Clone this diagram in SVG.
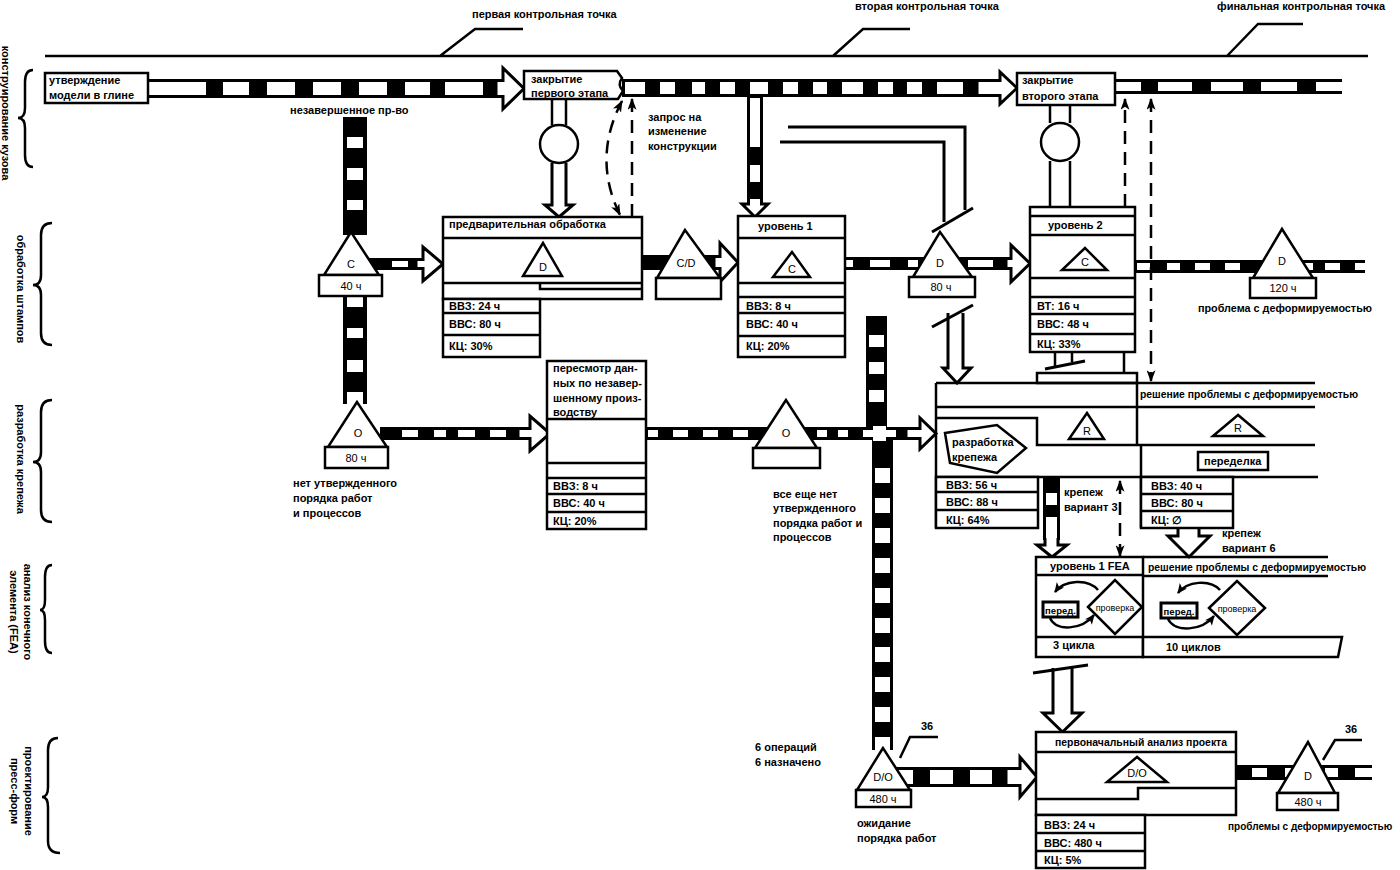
<svg xmlns="http://www.w3.org/2000/svg" width="1400" height="870" viewBox="0 0 1400 870">
<style>
.ln{fill:none;stroke:#000;stroke-width:2.5}
.th{fill:none;stroke:#000;stroke-width:3}
.bx{fill:#fff;stroke:#000;stroke-width:2.5}
.ar{fill:#fff;stroke:#000;stroke-width:3;stroke-linejoin:miter}
.tk{fill:#000}
.gp{fill:none;stroke:#fff;stroke-linecap:butt}
.ds{fill:none;stroke:#000;stroke-width:2.5;stroke-dasharray:13 8}
text{font-family:"Liberation Sans",Arial,sans-serif;fill:#000}
.b{font-size:11px;font-weight:bold}
.r{font-size:11px;text-anchor:middle}
.s{font-size:9px;text-anchor:middle}
.pb{font-size:9.5px;font-weight:bold;text-anchor:middle}
</style>
<defs>
<marker id="ah" viewBox="0 0 10 10" refX="9" refY="5" markerWidth="12" markerHeight="9" markerUnits="userSpaceOnUse" orient="auto-start-reverse" preserveAspectRatio="none"><path d="M0,0 L10,5 L0,10 L2.5,5 Z" fill="#000"/></marker>
<marker id="as" viewBox="0 0 10 10" refX="9" refY="5" markerWidth="10" markerHeight="9" markerUnits="userSpaceOnUse" orient="auto" preserveAspectRatio="none"><path d="M0,0 L10,5 L0,10 L2.5,5 Z" fill="#000"/></marker>
</defs>
<rect width="1400" height="870" fill="#fff"/>

<g id="lanes">
<path class="ln" d="M33,70Q25,70 25,82L25,108Q25,118 18,118Q25,118 25,128L25,155Q25,167 33,167"/>
<path class="ln" d="M52,223Q41,223 41,235L41,275Q41,285 33,285Q41,285 41,295L41,333Q41,345 52,345"/>
<path class="ln" d="M52,400Q41,400 41,412L41,452Q41,462 33,462Q41,462 41,472L41,510Q41,522 52,522"/>
<path class="ln" d="M52,565Q45,565 45,577L45,600Q45,610 40,610Q45,610 45,620L45,641Q45,653 52,653"/>
<path class="ln" d="M58,738Q48,738 48,750L48,787Q48,797 42,797Q48,797 48,807L48,841Q48,853 60,853"/>
<text class="b" text-anchor="middle" transform="translate(2,113) rotate(90)">конструирование кузова</text>
<text class="b" text-anchor="middle" transform="translate(17,289) rotate(90)">обработка штампов</text>
<text class="b" text-anchor="middle" transform="translate(17,459) rotate(90)">разработка крепежа</text>
<text class="b" text-anchor="middle" transform="translate(24,612) rotate(90)"><tspan x="0">анализ конечного</tspan><tspan x="0" dy="14">элемента (FEA)</tspan></text>
<text class="b" text-anchor="middle" transform="translate(25,791) rotate(90)"><tspan x="0">проектирование</tspan><tspan x="0" dy="14">пресс-форм</tspan></text>
</g>

<g id="checkpoints">
<path class="ln" d="M45,56H1368M440,56L475,29H523M833,56L863,29H910M1227,56L1258,24H1303"/>
<text class="b" x="472" y="18">первая контрольная точка</text>
<text class="b" x="855" y="10">вторая контрольная точка</text>
<text class="b" x="1217" y="10">финальная контрольная точка</text>
</g>

<g id="connectors">
<rect class="tk" x="148" y="79" width="349" height="19"/>
<path class="gp" stroke-width="13" d="M149,88.5H206M223,88.5H249M267,88.5H295M313,88.5H341M359,88.5H387M405,88.5H430M445,88.5H483"/>
<polygon class="ar" points="496,80.5 503,80.5 503,68 524,88.5 503,109 503,96.5 496,96.5"/>
<rect class="tk" x="622" y="79" width="357" height="18"/>
<path class="gp" stroke-width="12" d="M625,88H645M660,88H675M692,88H705M720,88H735M750,88H768M783,88H798M813,88H827M842,88H863M878,88H893M907,88H922M937,88H963"/>
<polygon class="ar" points="977,80.5 1000,80.5 1000,72 1017,88 1000,104 1000,95.5 977,95.5"/>
<rect class="tk" x="1115" y="79" width="227" height="15"/>
<path class="gp" stroke-width="9" d="M1115,86.5H1141M1158,86.5H1192M1211,86.5H1243M1261,86.5H1297M1316,86.5H1342"/>
<rect class="tk" x="747" y="96" width="16" height="105"/>
<path class="gp" stroke-width="10" d="M755,98V147M755,165V182"/>
<path class="ar" d="M748.5,199V204H742L755,217L768,204H761.5V199"/>
<rect class="tk" x="343" y="117" width="24" height="118"/>
<path class="gp" stroke-width="16" d="M355,137V148M355,168V180M355,200V210"/>
<rect class="tk" x="343" y="296" width="24" height="108"/>
<path class="gp" stroke-width="16" d="M355,297V307M355,328V338M355,360V372M355,392V404"/>
<rect class="tk" x="365" y="258" width="55" height="12"/>
<path class="gp" stroke-width="6" d="M392,264H408"/>
<polygon class="ar" points="416,259.5 423,259.5 423,247 443,264 423,281 423,268.5 416,268.5"/>
<rect class="tk" x="642" y="255" width="76" height="15"/>
<polygon class="ar" points="714,256.5 720,256.5 720,243 738,262.5 720,282 720,268.5 714,268.5"/>
<rect class="tk" x="845" y="257" width="164" height="13"/>
<path class="gp" stroke-width="7" d="M846,263.5H853M870,263.5H890M908,263.5H918M968,263.5H993"/>
<polygon class="ar" points="1006,258.5 1011,258.5 1011,245 1030,263.5 1011,282 1011,268.5 1006,268.5"/>
<rect class="tk" x="1135" y="260" width="230" height="13"/>
<path class="gp" stroke-width="7" d="M1137,266.5H1150M1167,266.5H1180M1195,266.5H1210M1225,266.5H1240M1300,266.5H1313M1325,266.5H1340M1355,266.5H1365"/>
<rect class="tk" x="380" y="427" width="142" height="13"/>
<path class="gp" stroke-width="7" d="M402,433.5H418M434,433.5H446M458,433.5H475M490,433.5H506"/>
<polygon class="ar" points="518,428.5 530,428.5 530,416 550,433.5 530,451 530,438.5 518,438.5"/>
<rect class="tk" x="866" y="316" width="21" height="112"/>
<path class="gp" stroke-width="15" d="M876.5,335V347M876.5,362V374M876.5,390V402"/>
<rect class="tk" x="872" y="427" width="21" height="323"/>
<path class="gp" stroke-width="15" d="M882.5,468V483M882.5,498V513M882.5,528V543M882.5,558V573M882.5,588V603M882.5,618V633M882.5,647V662M882.5,677V692M882.5,707V722M882.5,737V752"/>
<rect class="tk" x="646" y="427" width="262" height="13"/>
<path class="gp" stroke-width="7" d="M648,433.5H658M673,433.5H688M703,433.5H718M733,433.5H748M817,433.5H827M838,433.5H848M863,433.5H896"/>
<path class="gp" stroke-width="13" d="M879.5,426V441"/>
<polygon class="ar" points="906,428.5 920,428.5 920,418 936,433.5 920,449 920,438.5 906,438.5"/>
<rect class="tk" x="890" y="767" width="124" height="20"/>
<path class="gp" stroke-width="14" d="M890,777H913M930,777H953M970,777H992M1008,777H1014"/>
<polygon class="ar" points="1006,768.5 1020,768.5 1020,757 1037,777 1020,797 1020,785.5 1006,785.5"/>
<rect class="tk" x="1236" y="765" width="136" height="15"/>
<path class="gp" stroke-width="9" d="M1252,772.5H1267M1285,772.5H1300M1325,772.5H1338M1355,772.5H1372"/>
<rect class="tk" x="1043" y="477" width="17" height="63"/>
<path class="gp" stroke-width="11" d="M1051.5,493V505M1051.5,517V541"/>
<path class="ar" d="M1045,538V545H1037L1052,557L1067,545H1058V538"/>
<path class="ln" d="M552,100V125M566,100V125"/>
<path class="ar" stroke-width="2.5" d="M552,163V205H545L559,217L573,205H566V163"/>
<path class="ln" d="M1050,105V123M1070,105V123M1050,161V207M1070,161V207"/>
<path class="ds" d="M632,217V99" marker-end="url(#ah)"/>
<path class="ds" d="M622,101Q592,158 620,215" marker-start="url(#ah)" marker-end="url(#ah)"/>
<path class="ds" d="M1125,207V99" marker-end="url(#ah)"/>
<path class="ds" d="M1151,99V381" marker-start="url(#ah)" marker-end="url(#ah)"/>
<path class="ds" d="M1120,481V556" marker-start="url(#ah)" marker-end="url(#ah)"/>
<path class="th" d="M788,127H965V210M780,142H944V222"/>
<path class="th" d="M932,232L973,208"/>
<path class="ar" stroke-width="2.5" d="M948,313V368H943L957,383L971,368H963V313"/>
<path class="th" d="M932,327L973,305"/>
<path class="ln" d="M1055,352V367M1072,352V362M1124,352V373"/>
<path class="th" d="M1045,369L1085,361"/>
<path class="ar" stroke-width="2.5" d="M1053,668V713H1043L1062.5,732L1082,713H1072V668"/>
<path class="th" d="M1033,673L1088,665"/>
<path class="ar" stroke-width="2.5" d="M1178,528V536H1168L1189,557L1210,536H1199V528"/>
<path class="ln" d="M900,758L910,737H938M1323,760L1335,740H1362"/>
</g>

<g id="n-utv">
<rect class="bx" x="45" y="73" width="103" height="30"/>
<text class="b" x="49" y="84">утверждение</text>
<text class="b" x="49" y="99">модели в глине</text>
</g>
<g id="n-close1">
<path class="bx" d="M524,71H617L622,78Q617,85 623,91L618,99H524Z"/>
<text class="b" x="531" y="83">закрытие</text>
<text class="b" x="531" y="97">первого этапа</text>
</g>
<g id="n-close2">
<rect class="bx" x="1017" y="73" width="98" height="32"/>
<text class="b" x="1022" y="84">закрытие</text>
<text class="b" x="1022" y="100">второго этапа</text>
</g>
<g id="n-circle1"><circle class="bx" cx="559" cy="144" r="19"/></g>
<g id="n-circle2"><circle class="bx" cx="1060" cy="142" r="19"/></g>

<g id="n-tri-c40">
<polygon class="bx" points="351,232 324,275 379,275"/>
<rect class="bx" x="319" y="275" width="63" height="21"/>
<text class="r" x="351" y="268">C</text>
<text class="r" x="351" y="290">40 ч</text>
</g>
<g id="n-tri-o80">
<polygon class="bx" points="357,402 328,447 387,447"/>
<rect class="bx" x="325" y="447" width="63" height="21"/>
<text class="r" x="358" y="437">O</text>
<text class="r" x="356" y="462">80 ч</text>
</g>

<g id="n-pre">
<rect class="bx" x="443" y="217" width="199" height="82"/>
<path class="ln" d="M443,238H642M443,283H642M540,283V289H642"/>
<polygon class="bx" points="543,243 523,276 562,276"/>
<text class="r" x="543" y="271">D</text>
<text class="b" x="449" y="228">предварительная обработка</text>
<rect class="bx" x="443" y="299" width="97" height="58"/>
<path class="ln" d="M443,313H540M443,335H540"/>
<text class="b" x="449" y="310">ВВЗ: 24 ч</text>
<text class="b" x="449" y="328">ВВС: 80 ч</text>
<text class="b" x="449" y="350">КЦ: 30%</text>
</g>

<g id="n-tri-cd">
<polygon class="bx" points="685,230 657,278 720,278"/>
<rect class="bx" x="656" y="278" width="65" height="21"/>
<text class="r" x="686" y="267">C/D</text>
</g>

<g id="n-lvl1">
<rect class="bx" x="738" y="216" width="107" height="141"/>
<path class="ln" d="M738,238H845M738,283H845M738,297H845M738,313H845M738,336H845"/>
<text class="b" x="758" y="230">уровень 1</text>
<polygon class="bx" points="792,252 773,277 810,277"/>
<text class="r" x="792" y="273">C</text>
<text class="b" x="746" y="310">ВВЗ: 8 ч</text>
<text class="b" x="746" y="328">ВВС: 40 ч</text>
<text class="b" x="746" y="350">КЦ: 20%</text>
</g>

<g id="n-tri-d80">
<polygon class="bx" points="940,232 913,277 972,277"/>
<rect class="bx" x="909" y="277" width="66" height="20"/>
<text class="r" x="940" y="267">D</text>
<text class="r" x="941" y="291">80 ч</text>
</g>

<g id="n-lvl2">
<rect class="bx" x="1030" y="207" width="105" height="145"/>
<path class="ln" d="M1030,216H1135M1030,235H1135M1030,278H1135M1030,297H1135M1030,314H1135M1030,334H1135"/>
<text class="b" x="1048" y="229">уровень 2</text>
<polygon class="bx" points="1085,248 1062,270 1107,270"/>
<text class="r" x="1085" y="266">C</text>
<text class="b" x="1037" y="310">ВТ: 16 ч</text>
<text class="b" x="1037" y="328">ВВС: 48 ч</text>
<text class="b" x="1037" y="348">КЦ: 33%</text>
</g>

<g id="n-tri-d120">
<polygon class="bx" points="1282,229 1253,278 1313,278"/>
<rect class="bx" x="1250" y="278" width="66" height="20"/>
<text class="r" x="1282" y="265">D</text>
<text class="r" x="1283" y="292">120 ч</text>
<text class="b" x="1198" y="312" textLength="174" lengthAdjust="spacingAndGlyphs">проблема с деформируемостью</text>
</g>

<g id="n-review">
<rect class="bx" x="547" y="361" width="99" height="168"/>
<path class="ln" d="M547,419H646M547,463H646M547,478H646M547,494H646M547,512H646"/>
<text class="b" x="553" y="372">пересмотр дан-</text>
<text class="b" x="553" y="387">ных по незавер-</text>
<text class="b" x="553" y="402">шенному произ-</text>
<text class="b" x="553" y="416">водству</text>
<text class="b" x="553" y="490">ВВЗ: 8 ч</text>
<text class="b" x="553" y="507">ВВС: 40 ч</text>
<text class="b" x="553" y="525">КЦ: 20%</text>
</g>

<g id="n-tri-o">
<polygon class="bx" points="786,400 755,448 817,448"/>
<rect class="bx" x="753" y="448" width="67" height="20"/>
<text class="r" x="786" y="437">O</text>
</g>

<g id="n-fastener">
<rect class="bx" x="1037" y="373" width="100" height="10"/>
<path class="ln" d="M936,383H1315M936,383V528M936,407H1315M1137,383V445M936,418H1037V445H1315M936,477H1318M1141,445V528"/>
<polygon class="bx" points="945,433 997,425 1026,448 997,473 950,463"/>
<text class="b" x="952" y="446">разработка</text>
<text class="b" x="952" y="461">крепежа</text>
<polygon class="bx" points="1087,413 1069,439 1104,439"/>
<text class="r" x="1087" y="435">R</text>
<polygon class="bx" points="1238,415 1213,436 1263,436"/>
<text class="r" x="1238" y="432">R</text>
<rect class="bx" x="1198" y="452" width="70" height="18"/>
<text class="b" x="1204" y="465">переделка</text>
<text class="b" x="1140" y="398" textLength="218" lengthAdjust="spacingAndGlyphs">решение проблемы с деформируемостью</text>
<rect class="bx" x="936" y="477" width="102" height="51"/>
<path class="ln" d="M936,492H1038M936,510H1038"/>
<text class="b" x="946" y="489">ВВЗ: 56 ч</text>
<text class="b" x="946" y="506">ВВС: 88 ч</text>
<text class="b" x="946" y="524">КЦ: 64%</text>
<rect class="bx" x="1141" y="477" width="92" height="51"/>
<path class="ln" d="M1141,494H1233M1141,511H1233"/>
<text class="b" x="1151" y="490">ВВЗ: 40 ч</text>
<text class="b" x="1151" y="507">ВВС: 80 ч</text>
<text class="b" x="1151" y="524">КЦ: ∅</text>
</g>

<g id="n-fea">
<rect class="bx" x="1036" y="557" width="107" height="100"/>
<path class="ln" d="M1036,575H1143M1036,637H1143M1143,557H1328M1143,576H1328"/>
<polygon class="bx" points="1143,637 1342,637 1338,657 1143,657"/>
<text class="b" x="1050" y="570">уровень 1 FEA</text>
<text class="b" x="1148" y="571" textLength="218" lengthAdjust="spacingAndGlyphs">решение проблемы с деформируемостью</text>
<text class="b" x="1053" y="649">3 цикла</text>
<text class="b" x="1166" y="651">10 циклов</text>
<rect x="1043" y="602" width="35" height="15" fill="#fff" stroke="#000" stroke-width="3"/>
<text class="pb" x="1060.5" y="613.5">перед.</text>
<polygon class="bx" points="1088,607 1115,580 1142,607 1115,634"/>
<text class="s" x="1115" y="611">проверка</text>
<path class="ln" d="M1098,590C1088,578 1064,580 1055,592" marker-end="url(#as)"/>
<path class="ln" d="M1050,618C1056,632 1082,630 1094,615" marker-end="url(#as)"/>
<rect x="1161" y="603" width="36" height="15" fill="#fff" stroke="#000" stroke-width="3"/>
<text class="pb" x="1179" y="614.5">перед.</text>
<polygon class="bx" points="1209,608 1237,581 1265,608 1237,635"/>
<text class="s" x="1237" y="612">проверка</text>
<path class="ln" d="M1220,590C1210,579 1187,581 1178,593" marker-end="url(#as)"/>
<path class="ln" d="M1168,619C1175,633 1202,631 1214,616" marker-end="url(#as)"/>
</g>

<g id="n-initial">
<rect class="bx" x="1036" y="732" width="200" height="83"/>
<path class="ln" d="M1036,752H1236M1036,799H1138V788H1236"/>
<text class="b" x="1055" y="746" textLength="172" lengthAdjust="spacingAndGlyphs">первоначальный анализ проекта</text>
<polygon class="bx" points="1137,757 1107,782 1167,782"/>
<text class="r" x="1137" y="777">D/O</text>
<rect class="bx" x="1036" y="815" width="109" height="53"/>
<path class="ln" d="M1036,833H1145M1036,851H1145"/>
<text class="b" x="1044" y="829">ВВЗ: 24 ч</text>
<text class="b" x="1044" y="847">ВВС: 480 ч</text>
<text class="b" x="1044" y="864">КЦ: 5%</text>
</g>

<g id="n-tri-do480">
<polygon class="bx" points="883,748 857,790 910,790"/>
<rect class="bx" x="856" y="790" width="55" height="17"/>
<text class="r" x="883" y="781">D/O</text>
<text class="r" x="883" y="803">480 ч</text>
</g>

<g id="n-tri-d480">
<polygon class="bx" points="1308,742 1278,793 1335,793"/>
<rect class="bx" x="1277" y="793" width="61" height="17"/>
<text class="r" x="1308" y="780">D</text>
<text class="r" x="1308" y="806">480 ч</text>
<text class="b" x="1228" y="830" style="font-size:10px">проблемы с деформируемостью</text>
</g>

<g id="notes">
<text class="b" x="290" y="114">незавершенное пр-во</text>
<text class="b" x="648" y="121">запрос на</text>
<text class="b" x="648" y="135">изменение</text>
<text class="b" x="648" y="150">конструкции</text>
<text class="b" x="293" y="487">нет утвержденного</text>
<text class="b" x="293" y="502">порядка работ</text>
<text class="b" x="293" y="517">и процессов</text>
<text class="b" x="773" y="498">все еще нет</text>
<text class="b" x="773" y="512">утвержденного</text>
<text class="b" x="773" y="527">порядка работ и</text>
<text class="b" x="773" y="541">процессов</text>
<text class="b" x="1064" y="496">крепеж</text>
<text class="b" x="1064" y="511">вариант 3</text>
<text class="b" x="1222" y="537">крепеж</text>
<text class="b" x="1222" y="552">вариант 6</text>
<text class="b" x="755" y="751">6 операций</text>
<text class="b" x="755" y="766">6 назначено</text>
<text class="b" x="857" y="827">ожидание</text>
<text class="b" x="857" y="842">порядка работ</text>
<text class="b" x="921" y="730">36</text>
<text class="b" x="1345" y="733">36</text>
</g>
</svg>
